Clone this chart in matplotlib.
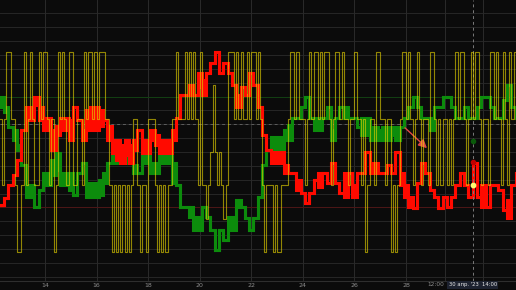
import numpy as np
import matplotlib
matplotlib.use("Agg")
import matplotlib.pyplot as plt
from matplotlib.transforms import blended_transform_factory

# ---------------- data (indicator units) ----------------
start_day = 12.25          # 12 Apr, 06:00
step_rg = 4 / 24           # red / green sampled every 4 hours
step_y = 2 / 24            # yellow sampled every 2 hours

red_hi = [20.9, 23.4, 28.1, 31.7, 37.1, 48.1, 56.2, 56.2, 59.8, 56.2,
          52.3, 52.3, 47.9, 49.3, 52.3, 52.3, 51.5, 56.2, 51.5, 47.9,
          55.1, 56.2, 56.2, 55.1, 51.5, 49.3, 44.3, 44.3, 42.5, 44.3,
          42.5, 44.3, 48.1, 44.3, 44.3, 48.1, 46.1, 44.3, 44.3, 44.3,
          47.9, 52.3, 60.6, 60.6, 64.2, 60.6, 68.5, 66.0, 68.5, 72.1,
          76.1, 68.5, 72.1, 68.5, 64.2, 60.6, 63.5, 60.6, 68.5, 64.2,
          56.2, 46.1, 40.7, 40.0, 40.0, 40.0, 35.3, 32.4, 32.4, 29.9,
          25.2, 21.6, 25.2, 29.9, 32.4, 32.4, 28.8, 36.0, 28.8, 25.2,
          32.4, 32.4, 28.1, 32.4, 32.4, 40.0, 36.0, 36.0, 32.4, 32.4,
          35.3, 32.4, 40.0, 32.4, 28.1, 23.8, 19.8, 28.8, 36.0, 32.4,
          26.3, 23.8, 19.8, 23.8, 20.1, 23.8, 28.1, 32.4, 28.1, 23.8,
          36.0, 23.8, 28.1, 20.1, 28.1, 28.1, 26.3, 19.1, 22.7, 28.1,
          32.4]
red_lo = [20.9, 23.4, 28.1, 31.7, 37.1, 48.1, 51.5, 51.5, 56.9, 51.5,
          47.9, 47.9, 40.7, 46.1, 47.9, 47.9, 44.3, 56.2, 51.5, 44.3,
          47.9, 47.9, 47.9, 49.3, 51.5, 44.3, 39.6, 37.1, 36.0, 38.9,
          36.0, 40.7, 48.1, 39.6, 39.6, 44.3, 42.5, 39.6, 39.6, 39.6,
          44.3, 52.3, 60.6, 60.6, 60.6, 60.6, 63.5, 60.6, 68.5, 72.1,
          76.1, 68.5, 72.1, 68.5, 64.2, 56.2, 63.5, 60.6, 68.5, 64.2,
          56.2, 46.1, 40.7, 36.0, 36.0, 36.0, 32.4, 32.4, 32.4, 26.3,
          25.2, 21.6, 25.2, 29.9, 27.4, 32.4, 28.8, 36.0, 28.8, 25.2,
          23.8, 32.4, 23.8, 32.4, 32.4, 40.0, 32.4, 32.4, 32.4, 32.4,
          35.3, 32.4, 40.0, 28.1, 23.8, 20.1, 19.8, 28.8, 36.0, 32.4,
          26.3, 23.8, 19.8, 23.8, 20.1, 23.8, 28.1, 32.4, 28.1, 23.8,
          36.0, 23.8, 20.1, 20.1, 28.1, 28.1, 26.3, 19.1, 16.2, 28.1,
          32.4]
green_hi = [59.8, 56.2, 49.0, 47.9, 42.5, 35.3, 28.1, 28.1, 20.1, 26.3,
            32.4, 32.4, 37.1, 39.6, 32.4, 32.4, 32.4, 24.5, 32.4, 36.0,
            28.8, 28.8, 28.8, 29.9, 32.4, 36.0, 39.6, 39.6, 39.6, 39.6,
            39.6, 35.3, 32.4, 39.6, 39.6, 36.0, 36.0, 39.6, 39.6, 39.6,
            36.0, 28.1, 20.1, 20.1, 20.1, 16.5, 16.5, 20.1, 16.5, 11.8,
            4.6, 11.8, 8.2, 16.5, 16.5, 22.7, 20.1, 16.2, 11.8, 16.2,
            23.8, 35.3, 40.7, 45.4, 45.4, 45.4, 47.9, 49.7, 52.3, 52.3,
            56.2, 59.8, 52.3, 52.3, 52.3, 52.3, 56.2, 47.9, 52.3, 56.2,
            56.2, 52.3, 52.3, 49.0, 52.3, 52.3, 49.0, 49.0, 47.9, 49.0,
            49.0, 49.0, 49.0, 49.0, 52.3, 56.2, 59.8, 56.2, 52.3, 52.3,
            52.3, 56.2, 56.2, 59.8, 59.8, 56.2, 52.3, 52.3, 56.2, 52.3,
            52.3, 56.2, 59.8, 59.8, 56.2, 52.3, 52.3, 58.8, 64.2, 56.2,
            52.3]
green_lo = [56.2, 54.4, 49.0, 44.3, 40.7, 35.3, 23.8, 23.8, 20.1, 26.3,
            28.1, 28.1, 31.7, 33.5, 28.1, 28.1, 26.3, 24.5, 32.4, 36.0,
            23.8, 23.8, 23.8, 24.5, 28.8, 36.0, 36.0, 36.0, 36.0, 36.0,
            36.0, 32.4, 32.4, 36.0, 36.0, 32.4, 32.4, 36.0, 36.0, 36.0,
            28.8, 28.1, 20.1, 20.1, 16.5, 11.8, 11.8, 20.1, 16.5, 11.8,
            4.6, 11.8, 8.2, 11.8, 11.8, 20.1, 20.1, 16.2, 11.8, 16.2,
            23.8, 35.3, 40.7, 40.7, 40.7, 40.7, 44.3, 44.3, 52.3, 52.3,
            56.2, 59.8, 52.3, 47.9, 47.9, 52.3, 56.2, 44.3, 52.3, 56.2,
            52.3, 52.3, 52.3, 49.0, 46.1, 46.1, 44.3, 44.3, 44.3, 44.3,
            44.3, 46.1, 44.3, 49.0, 52.3, 56.2, 59.8, 56.2, 52.3, 52.3,
            47.9, 56.2, 56.2, 59.8, 59.8, 56.2, 52.3, 52.3, 56.2, 52.3,
            52.3, 56.2, 59.8, 59.8, 56.2, 52.3, 52.3, 58.8, 64.2, 56.2,
            52.3]
# yellow: discrete levels 0..6
yellow = [4, 2, 4, 6, 6, 4, 4, 2, 0, 0, 2, 6, 2, 4, 6, 4, 2, 2, 6, 4,
          6, 6, 4, 2, 4, 0, 2, 6, 4, 6, 4, 2, 6, 6, 2, 2, 4, 4, 2, 6,
          4, 6, 6, 4, 6, 4, 6, 6, 6, 4, 4, 2, 0, 2, 0, 2, 0, 2, 0, 2,
          0, 2, 4, 4, 2, 0, 2, 2, 0, 4, 4, 4, 2, 0, 2, 0, 2, 0, 2, 2,
          4, 4, 6, 4, 4, 4, 6, 4, 6, 4, 6, 4, 2, 6, 2, 2, 1, 2, 3, 5,
          3, 2, 3, 2, 1, 2, 6, 6, 6, 4, 6, 4, 6, 4, 4, 6, 4, 6, 6, 4,
          6, 4, 2, 0, 2, 2, 2, 0, 2, 0, 0, 2, 2, 2, 4, 6, 6, 4, 6, 4,
          4, 4, 2, 4, 6, 4, 6, 6, 4, 6, 4, 6, 6, 4, 2, 4, 6, 6, 4, 6,
          4, 4, 2, 4, 4, 6, 4, 4, 2, 4, 0, 2, 4, 4, 2, 6, 6, 4, 4, 2,
          4, 4, 0, 2, 0, 2, 4, 6, 6, 4, 6, 4, 2, 4, 6, 4, 2, 4, 4, 2,
          6, 6, 4, 2, 4, 2, 4, 4, 2, 4, 2, 4, 6, 4, 6, 6, 4, 2, 4, 6,
          4, 6, 6, 4, 2, 4, 4, 2, 6, 6, 4, 6, 4, 2, 6, 4, 2, 6, 4, 6,
          4]

tick_days = [14, 16, 18, 20, 22, 24, 26, 28]
tick_labels = ["14", "16", "18", "20", "22", "24", "26", "28"]
extra_grid_days = [29.5, 31.0]
extra_label = "12:00"
cross_day = 30 + 14 / 24
cross_label = "30 апр. '23  14:00"
cross_red, cross_green, cross_yellow = 36.4, 44.1, 2
arrow_from = (27.88, 49.4)
arrow_to = (28.89, 40.7)
level_green, level_mid, level_red = 60, 50, 20

# ---------------- plot ----------------
BG = "#0b0b0b"
fig = plt.figure(figsize=(5.16, 2.90), dpi=100, facecolor=BG)
ax = fig.add_axes([0, 9 / 290, 1, 281 / 290])
ax.set_facecolor(BG)
ax.set_xlim(12.255, 32.263)
ax.set_ylim(-6.57, 94.87)

for s in ["top", "left", "right"]:
    ax.spines[s].set_visible(False)
ax.spines["bottom"].set_color("#2e2e2e")
ax.spines["bottom"].set_linewidth(0.8)

# grid
for v in np.arange(-5, 95, 5):
    ax.axhline(v, color="#262626", lw=0.7, zorder=0.5)
for d in tick_days + extra_grid_days:
    ax.axvline(d, color="#2a2a2a", lw=0.7, zorder=0.5)

ax.axhline(level_green, color="#123f12", lw=0.7, zorder=0.8)
ax.axhline(level_red, color="#4d1616", lw=0.7, zorder=0.8)
ax.axhline(level_mid, color="#5e5e5e", lw=0.7, ls=(0, (3, 3)), zorder=0.8)

t_rg = start_day + np.arange(len(red_hi)) * step_rg
t_y = start_day + np.arange(len(yellow)) * step_y

GREEN = "#0c8c0c"
RED = "#ff0a00"
for hi, lo, col, z in [(green_hi, green_lo, GREEN, 2), (red_hi, red_lo, RED, 3)]:
    ax.fill_between(t_rg, lo, hi, step="post", color=col, lw=0, zorder=z)
    ax.step(t_rg, hi, where="post", color=col, lw=2.2, zorder=z, solid_joinstyle="miter")
    ax.step(t_rg, lo, where="post", color=col, lw=2.2, zorder=z, solid_joinstyle="miter")

ax2 = ax.twinx()
ax2.set_ylim((-6.57 - 3.9) / 12.03, (94.87 - 3.9) / 12.03)
ax2.axis("off")
ax2.step(t_y, yellow, where="post", color="#e6d200", lw=0.8, alpha=0.62, zorder=4)

# crosshair
ax.axvline(cross_day, color="#7a7a7a", lw=0.7, ls=(0, (3, 3)), zorder=5)
ax.plot([cross_day], [cross_green], "o", ms=3, color="#0a5a0a", zorder=6)
ax.plot([cross_day], [cross_red], "o", ms=3, color="#c00000", zorder=6)
ax2.plot([cross_day], [cross_yellow], "o", ms=3.2, color="#ffff70", zorder=7)

ax.annotate("", xy=arrow_to, xytext=arrow_from,
            arrowprops=dict(arrowstyle="-|>,head_length=0.5,head_width=0.25",
                            color="#e04848", lw=1.0), zorder=6)

# x labels
ax.set_xticks(tick_days)
ax.set_xticklabels(tick_labels)
ax.tick_params(axis="x", length=0, pad=1.2, labelsize=4.5, labelcolor="#8c8c8c")
ax.tick_params(axis="y", left=False, labelleft=False)
ax.set_yticks([])

tr = blended_transform_factory(ax.transData, ax.transAxes)
ax.text(extra_grid_days[0] - 0.35, -0.0045, extra_label, transform=tr, ha="center", va="top",
        fontsize=4.2, color="#8c8c8c", clip_on=False)
ax.text(cross_day, -0.0045, cross_label, transform=tr, ha="center", va="top",
        fontsize=3.8, color="#e8e8e8", clip_on=False, zorder=10,
        bbox=dict(boxstyle="square,pad=0.3", fc="#1d2230", ec="none"))

fig.savefig("out.png", dpi=100, facecolor=BG)
